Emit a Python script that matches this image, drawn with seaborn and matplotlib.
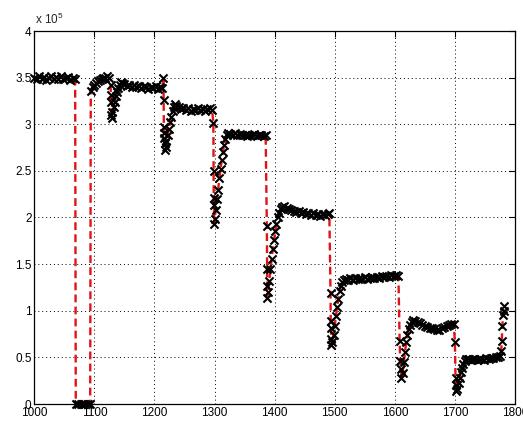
import numpy as np
import pandas as pd
import matplotlib
matplotlib.use("Agg")
import matplotlib.pyplot as plt
from matplotlib.ticker import FuncFormatter
import seaborn as sns

# Sample positions and measured values (values in units of 1e5)
sample_x = [
    1000, 1004, 1008, 1012, 1016, 1020, 1024, 1028, 1032, 1036, 1040, 1044,
    1048, 1052, 1056, 1060, 1064, 1068,
    1069, 1073, 1077, 1081, 1085, 1089, 1093,
    1094, 1097, 1100, 1103, 1106, 1109, 1112, 1115, 1118, 1121, 1124,
    1127, 1127.3, 1127.6, 1128, 1129, 1130, 1132, 1134, 1136, 1138, 1140,
    1142, 1144, 1146,
    1150, 1154, 1158, 1162, 1166, 1170, 1174, 1178, 1182, 1186, 1190, 1194,
    1198, 1202, 1206, 1210, 1213,
    1215, 1215.3, 1215.6, 1216, 1216.4, 1217, 1218,
    1219, 1220, 1222, 1224, 1226, 1228, 1230, 1232, 1234, 1236,
    1240, 1244, 1248, 1252, 1256, 1260, 1264, 1268, 1272, 1276, 1280, 1284,
    1288, 1292, 1296,
    1298, 1298.3, 1298.6, 1299, 1299.4,
    1300, 1302, 1304, 1306, 1308, 1310, 1312, 1314, 1316, 1318, 1320, 1322,
    1326, 1330, 1334, 1338, 1342, 1346, 1350, 1354, 1358, 1362, 1366, 1370,
    1374, 1378, 1382, 1385,
    1387, 1387.3, 1387.6, 1388,
    1389, 1391, 1393, 1395, 1397, 1399, 1401, 1403, 1405, 1407, 1410, 1413,
    1416, 1420, 1424, 1428, 1432, 1436, 1440, 1444, 1448, 1452, 1456, 1460,
    1464, 1468, 1472, 1476, 1480, 1484, 1488, 1491,
    1493, 1493.3, 1493.6, 1494, 1494.5,
    1496, 1498, 1500, 1502, 1504, 1506, 1508, 1510, 1512, 1515,
    1518, 1522, 1526, 1530, 1534, 1538, 1542, 1546, 1550, 1554, 1558, 1562,
    1566, 1570, 1574, 1578, 1582, 1586, 1590, 1594, 1598, 1602, 1606,
    1608, 1609, 1610, 1611,
    1613, 1615, 1617, 1619, 1621, 1623, 1625, 1628, 1631,
    1634, 1638, 1642, 1646, 1650, 1654, 1658, 1662, 1666, 1670, 1674, 1678,
    1682, 1686, 1690, 1694, 1698,
    1700, 1701, 1701.5, 1702,
    1704, 1706, 1708, 1710, 1712, 1714, 1716, 1718, 1721,
    1724, 1728, 1732, 1736, 1740, 1744, 1748, 1752, 1756, 1760, 1764, 1768,
    1772, 1775,
    1777, 1778, 1779, 1780, 1781, 1782,
]
sample_y = [
    3.50, 3.48, 3.52, 3.49, 3.51, 3.47, 3.50, 3.52, 3.48, 3.51, 3.49, 3.52,
    3.48, 3.50, 3.51, 3.47, 3.50, 3.49,
    0.00, 0.00, 0.00, 0.00, 0.00, 0.00, 0.00,
    3.36, 3.40, 3.42, 3.44, 3.46, 3.47, 3.49, 3.50, 3.50, 3.52, 3.50,
    3.42, 3.31, 3.24, 3.10, 3.07, 3.13, 3.18, 3.24, 3.30, 3.35, 3.39,
    3.42, 3.45, 3.44,
    3.43, 3.41, 3.42, 3.40, 3.42, 3.40, 3.41, 3.39, 3.41, 3.40, 3.38, 3.40,
    3.39, 3.41, 3.38, 3.40, 3.39,
    3.50, 3.26, 2.97, 2.91, 2.85, 2.80, 2.72,
    2.76, 2.82, 2.88, 2.95, 3.02, 3.08, 3.14, 3.19, 3.22, 3.20,
    3.18, 3.16, 3.17, 3.15, 3.17, 3.14, 3.16, 3.15, 3.17, 3.15, 3.16, 3.14,
    3.16, 3.17, 3.15,
    3.01, 2.50, 2.21, 2.13, 1.93,
    1.98, 2.08, 2.20, 2.30, 2.42, 2.52, 2.62, 2.70, 2.78, 2.84, 2.89, 2.91,
    2.90, 2.89, 2.91, 2.88, 2.90, 2.88, 2.89, 2.87, 2.89, 2.88, 2.90, 2.87,
    2.89, 2.88, 2.87, 2.89,
    1.91, 1.45, 1.27, 1.14,
    1.20, 1.32, 1.45, 1.56, 1.66, 1.76, 1.85, 1.93, 2.00, 2.05, 2.09, 2.11,
    2.12, 2.10, 2.09, 2.08, 2.07, 2.06, 2.07, 2.05, 2.06, 2.04, 2.05, 2.03,
    2.05, 2.03, 2.04, 2.02, 2.04, 2.03, 2.04, 2.05,
    1.19, 0.89, 0.82, 0.70, 0.63,
    0.66, 0.74, 0.84, 0.94, 1.04, 1.13, 1.21, 1.27, 1.31, 1.33,
    1.34, 1.33, 1.35, 1.33, 1.35, 1.34, 1.35, 1.34, 1.36, 1.34, 1.35, 1.36,
    1.35, 1.36, 1.35, 1.37, 1.36, 1.37, 1.36, 1.38, 1.37, 1.38, 1.37,
    0.68, 0.46, 0.38, 0.28,
    0.33, 0.45, 0.56, 0.66, 0.74, 0.80, 0.85, 0.88, 0.90,
    0.89, 0.88, 0.87, 0.85, 0.84, 0.83, 0.82, 0.81, 0.80, 0.79, 0.79, 0.81,
    0.83, 0.84, 0.85, 0.86, 0.86,
    0.66, 0.28, 0.20, 0.14,
    0.16, 0.22, 0.28, 0.34, 0.39, 0.43, 0.46, 0.48, 0.48,
    0.48, 0.47, 0.48, 0.47, 0.48, 0.48, 0.47, 0.49, 0.48, 0.49, 0.49, 0.50,
    0.50, 0.51,
    0.57, 0.68, 0.84, 0.95, 1.00, 1.05,
]

x_ticks = [1000, 1100, 1200, 1300, 1400, 1500, 1600, 1700, 1800]
y_ticks = [0, 0.5, 1, 1.5, 2, 2.5, 3, 3.5, 4]
scale = 1e5

sns.set_style("white")
plt.rcParams["font.family"] = ["Liberation Sans", "DejaVu Sans"]
plt.rcParams["mathtext.default"] = "regular"

df = pd.DataFrame({"x": sample_x, "y": np.array(sample_y) * scale})

fig = plt.figure(figsize=(5.23, 4.23), dpi=100)
ax = fig.add_axes([34.3 / 523, 19 / 423, (515 - 34.3) / 523, (404 - 31) / 423])

# red dashed trace joining consecutive samples
sns.lineplot(data=df, x="x", y="y", sort=False, estimator=None,
             color="#e01414", linewidth=1.7, ax=ax, zorder=2)
trace = ax.lines[-1]
trace.set_linestyle("--")
trace.set_dashes([3.3, 1.8])

# black cross markers on every sample
sns.scatterplot(data=df, x="x", y="y", marker="x", color="black",
                s=34, linewidth=1.5, ax=ax, zorder=3, clip_on=False)

ax.set_xlim(x_ticks[0], x_ticks[-1])
ax.set_ylim(y_ticks[0] * scale, y_ticks[-1] * scale)
ax.set_xticks(x_ticks)
ax.set_yticks([t * scale for t in y_ticks])
ax.yaxis.set_major_formatter(FuncFormatter(lambda v, p: f"{v / scale:g}"))
ax.set_xlabel("")
ax.set_ylabel("")

ax.grid(True, color="black", linestyle=(0, (1, 3)), linewidth=0.7)
ax.set_axisbelow(True)
ax.tick_params(direction="in", top=True, right=True, length=4, width=0.8,
               labelsize=8.5, pad=2, colors="black")
for sp in ax.spines.values():
    sp.set_visible(True)
    sp.set_color("black")
    sp.set_linewidth(0.9)

ax.text(0.002, 1.012, r"x 10$^5$", transform=ax.transAxes, fontsize=8.5,
        ha="left", va="bottom")

fig.savefig("out.png", dpi=100)
